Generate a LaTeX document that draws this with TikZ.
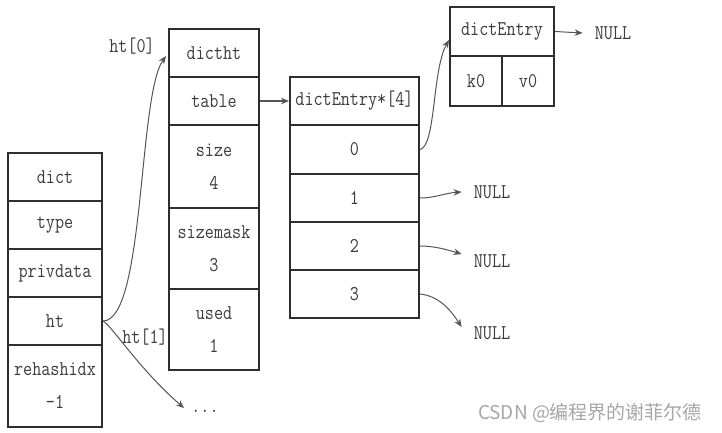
\documentclass[tikz,border=0pt]{standalone}
\usepackage{fontspec}
\newfontfamily\monof[FakeStretch=0.84]{Latin Modern Mono}
\newfontfamily\cjkf{Noto Sans CJK SC}
\usetikzlibrary{arrows.meta}
\definecolor{txt}{HTML}{3C3C3C}
\definecolor{brd}{HTML}{2E2E2E}
\definecolor{arr}{HTML}{555555}
\tikzset{
  cell/.style={draw=brd, line width=2pt, fill=white, text=txt, inner sep=0pt,
    font=\monof\fontsize{21}{24}\selectfont, align=center, anchor=center},
  lbl/.style={text=txt, inner sep=0pt, font=\monof\fontsize{21}{24}\selectfont},
  nul/.style={lbl, inner xsep=12pt},
  ptr/.style={draw=arr, line width=1pt, -{Stealth[length=8pt,width=6.5pt]}},
}
\begin{document}
\begin{tikzpicture}[x=1pt,y=-1pt]
\useasboundingbox (0,0) rectangle (722,432);
% dict column
\node[cell, minimum width=94pt, minimum height=48pt] (dict) at (55,177) {dict};
\node[cell, minimum width=94pt, minimum height=48pt] (type) at (55,225) {type};
\node[cell, minimum width=94pt, minimum height=48pt] (priv) at (55,273) {privdata};
\node[cell, minimum width=94pt, minimum height=48pt] (ht) at (55,321) {ht};
\node[cell, minimum width=94pt, minimum height=82pt] (rehash) at (55,386) {rehashidx\\[9pt]-1};
% dictht column
\node[cell, minimum width=90pt, minimum height=48pt] (dictht) at (214,53) {dictht};
\node[cell, minimum width=90pt, minimum height=48pt] (table) at (214,101) {table};
\node[cell, minimum width=90pt, minimum height=83pt] (size) at (214,166.5) {size\\[9pt]4};
\node[cell, minimum width=90pt, minimum height=81pt] (mask) at (214,248.5) {sizemask\\[9pt]3};
\node[cell, minimum width=90pt, minimum height=81pt] (used) at (214,329.5) {used\\[9pt]1};
% array column
\node[cell, minimum width=129pt, minimum height=48pt] (arr) at (354.5,101) {dictEntry*[4]};
\node[cell, minimum width=129pt, minimum height=49pt] (a0) at (354.5,149.5) {0};
\node[cell, minimum width=129pt, minimum height=48pt] (a1) at (354.5,198) {1};
\node[cell, minimum width=129pt, minimum height=48pt] (a2) at (354.5,246) {2};
\node[cell, minimum width=129pt, minimum height=48pt] (a3) at (354.5,294) {3};
% dictEntry
\node[cell, minimum width=104pt, minimum height=49pt] (de) at (502,31.5) {dictEntry};
\node[cell, minimum width=52pt, minimum height=50pt] (k0) at (476,81) {k0};
\node[cell, minimum width=52pt, minimum height=50pt] (v0) at (528,81) {v0};
% labels
\node[lbl] (ht0) at (132,46) {ht[0]};
\node[lbl] (ht1) at (145,337) {ht[1]};
\node[lbl] (dots) at (205,411) {...};
\node[nul] (n0) at (613,33) {NULL};
\node[nul] (n1) at (492,192) {NULL};
\node[nul] (n2) at (492,261) {NULL};
\node[nul] (n3) at (492,333) {NULL};
\coordinate (e0) at (166,56);
\coordinate (e1) at (184,408);
% arrows
\draw[ptr] (ht.east) .. controls (145,321) and (138,95) .. (e0);
\draw[ptr] (ht.east) .. controls (112,326) and (140,370) .. (e1);
\draw[ptr, line width=1.6pt] (table.east) -- (arr.west);
\draw[ptr] (a0.east) .. controls (436,146) and (432,70) .. (de.west |- 0,40);
\draw[ptr] (de.east) -- (n0.west);
\draw[ptr] (a1.east) .. controls (435,198) and (445,193) .. (n1.west);
\draw[ptr] (a2.east) .. controls (435,246) and (448,250) .. (n2.west |- 0,254);
\draw[ptr] (a3.east |- 0,294) .. controls (440,296) and (452,312) .. (n3.west |- 0,327);
% watermark
\node[text=black!35, inner sep=0pt, font=\cjkf\fontsize{19}{22}\selectfont] (wm) at (590,413) {CSDN @编程界的谢菲尔德};
\end{tikzpicture}
\end{document}
